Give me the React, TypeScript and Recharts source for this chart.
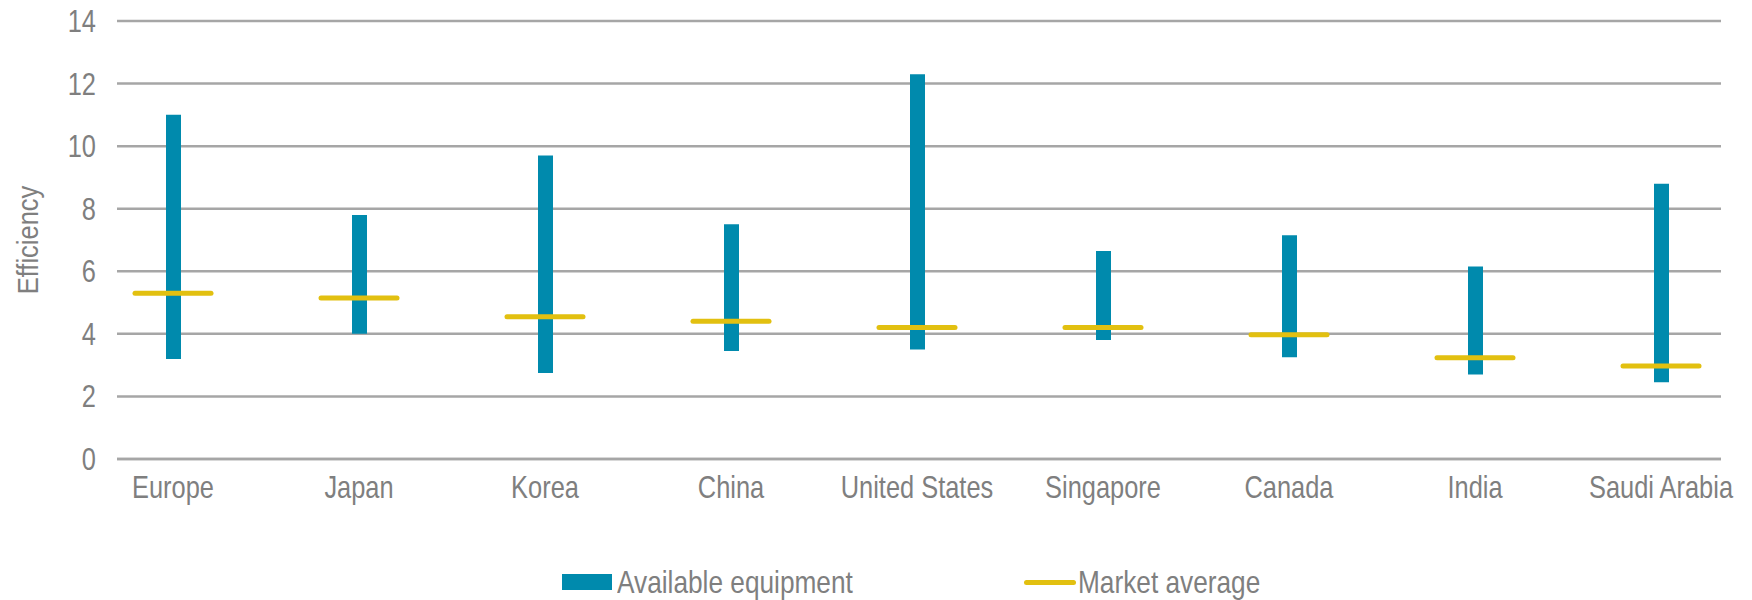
import { ComposedChart, Bar, Line, XAxis, YAxis, CartesianGrid, Label } from "recharts";

const regions = ["Europe", "Japan", "Korea", "China", "United States", "Singapore", "Canada", "India", "Saudi Arabia"];
const equipmentLow = [3.2, 4.0, 2.75, 3.45, 3.5, 3.8, 3.25, 2.7, 2.45];
const equipmentHigh = [11.0, 7.8, 9.7, 7.5, 12.3, 6.65, 7.15, 6.15, 8.8];
const marketAverage = [5.3, 5.15, 4.55, 4.4, 4.2, 4.2, 3.97, 3.24, 2.97];
const yTicks = [0, 2, 4, 6, 8, 10, 12, 14];

const TEAL = "#008aad";
const GOLD = "#e2c010";
const GREY_TEXT = "#7f7f7f";
const GRID = "#a6a6a6";
const FONT = "'Liberation Sans', Arial, sans-serif";
// no narrow font installed, so squeeze Liberation Sans like Arial Narrow
const SQUEEZE = 0.82;

const data = regions.map((name, i) => ({
  name,
  range: [equipmentLow[i], equipmentHigh[i]],
  avg: marketAverage[i],
}));

const AvgDash = (props: any) => {
  const { cx, cy } = props;
  if (cx == null || cy == null) return null;
  return (
    <line x1={cx - 38} x2={cx + 38} y1={cy} y2={cy} stroke={GOLD} strokeWidth={5} strokeLinecap="round" />
  );
};

const XTick = (props: any) => {
  const { x, y, payload } = props;
  return (
    <g transform={`translate(${x},${y}) scale(${SQUEEZE},1)`}>
      <text x={0} y={0} dy="0.71em" textAnchor="middle" fill={GREY_TEXT} fontSize={31} fontFamily={FONT}>
        {payload.value}
      </text>
    </g>
  );
};

const YTick = (props: any) => {
  const { x, y, payload } = props;
  return (
    <g transform={`translate(${x},${y}) scale(${SQUEEZE},1)`}>
      <text x={0} y={0} dy="0.355em" textAnchor="end" fill={GREY_TEXT} fontSize={31} fontFamily={FONT}>
        {payload.value}
      </text>
    </g>
  );
};

export default function App() {
  return (
    <div style={{ position: "absolute", left: 0, top: 0, width: 1752, height: 600, background: "#fff", fontFamily: FONT }}>
      <ComposedChart width={1752} height={600} data={data} margin={{ top: 21, right: 31, left: 0, bottom: 0 }}>
        <CartesianGrid vertical={false} stroke={GRID} strokeWidth={2.5} />
        <XAxis
          dataKey="name"
          height={141}
          padding={{ left: -37, right: -33 }}
          axisLine={{ stroke: GRID, strokeWidth: 2.5 }}
          tickLine={false}
          tickSize={0}
          tickMargin={17}
          interval={0}
          tick={<XTick />}
        />
        <YAxis
          width={117}
          domain={[0, 14]}
          ticks={yTicks}
          axisLine={false}
          tickLine={false}
          tickSize={0}
          tickMargin={21}
          tick={<YTick />}
        >
          <Label
            content={() => (
              <g transform="translate(38,240) rotate(-90) scale(0.85,1)">
                <text x={0} y={0} textAnchor="middle" fill={GREY_TEXT} fontSize={30} fontFamily={FONT}>
                  Efficiency
                </text>
              </g>
            )}
          />
        </YAxis>
        <Bar dataKey="range" fill={TEAL} barSize={15} isAnimationActive={false} />
        <Line dataKey="avg" stroke="none" dot={<AvgDash />} activeDot={false} isAnimationActive={false} />
      </ComposedChart>
      <div style={{ position: "absolute", left: 562, top: 574, width: 50, height: 16, background: TEAL }} />
      <div
        style={{
          position: "absolute",
          left: 617,
          top: 562,
          fontSize: 32,
          lineHeight: "40px",
          color: GREY_TEXT,
          whiteSpace: "nowrap",
          transform: `scaleX(${SQUEEZE})`,
          transformOrigin: "left center",
        }}
      >
        Available equipment
      </div>
      <div style={{ position: "absolute", left: 1024, top: 580, width: 52, height: 5, borderRadius: 3, background: GOLD }} />
      <div
        style={{
          position: "absolute",
          left: 1078,
          top: 562,
          fontSize: 32,
          lineHeight: "40px",
          color: GREY_TEXT,
          whiteSpace: "nowrap",
          transform: `scaleX(${SQUEEZE})`,
          transformOrigin: "left center",
        }}
      >
        Market average
      </div>
    </div>
  );
}
